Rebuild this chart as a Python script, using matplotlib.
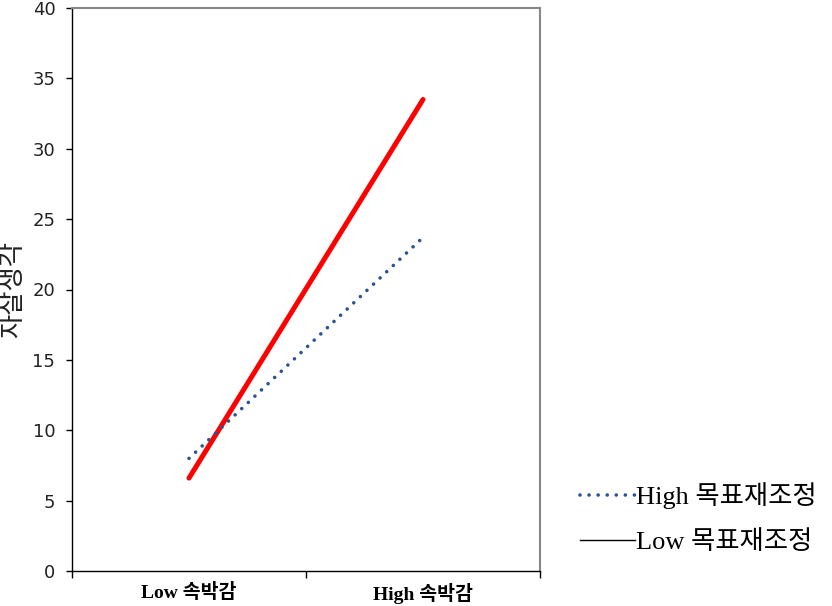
import matplotlib.pyplot as plt
from matplotlib.lines import Line2D

# 데이터
categories = ['Low 속박감', 'High 속박감']
high_goal = [8.0, 23.7]
low_goal = [6.6, 33.5]
series_names = ['High 목표재조정', 'Low 목표재조정']
y_ticks = [0, 5, 10, 15, 20, 25, 30, 35, 40]

serif_kr = ['Liberation Serif', 'Noto Sans CJK KR']

fig = plt.figure(figsize=(8.32, 6.06), dpi=100)
ax = fig.add_axes([72 / 832, 1 - 571 / 606, (540 - 72) / 832, (571 - 8) / 606])

x = [0.5, 1.5]
ax.plot(x, low_goal, color='#ff0000', lw=3.6, solid_capstyle='round', zorder=2)
ax.plot(x, high_goal, color='#2a5494', lw=2.6, linestyle=(0, (0.01, 2.5)),
        dash_capstyle='round', zorder=3)

ax.set_xlim(0, 2)
ax.set_ylim(0, 40)
ax.set_yticks(y_ticks)
ax.set_yticklabels([str(v) for v in y_ticks], fontsize=13, family='DejaVu Sans',
                   color='#222222')
ax.tick_params(axis='y', direction='out', length=4, width=1, pad=8)

# 범주 사이 눈금
ax.set_xticks([0, 1, 2])
ax.set_xticklabels([])
ax.set_xticks(x, minor=True)
ax.set_xticklabels(categories, minor=True, fontsize=14, fontweight='bold', family=serif_kr)
ax.tick_params(axis='x', which='major', direction='out', length=5, width=1)
ax.tick_params(axis='x', which='minor', length=0, pad=9)

for s in ['left', 'bottom']:
    ax.spines[s].set_color('black')
    ax.spines[s].set_linewidth(1)
for s in ['top', 'right']:
    ax.spines[s].set_color('#888888')
    ax.spines[s].set_linewidth(1.5)

ax.set_ylabel('자살생각', fontsize=19, family=['Noto Sans CJK KR'], color='#222222')
ax.yaxis.set_label_coords(-0.098, 0.5)

handles = [
    Line2D([], [], color='#2a5494', lw=2.6, linestyle=(0, (0.01, 2.5)), dash_capstyle='round'),
    Line2D([], [], color='black', lw=1),
]
fig.legend(handles, series_names, loc='center left', bbox_to_anchor=(556 / 832, 1 - 518 / 606),
           frameon=False, handlelength=2.1, handletextpad=0.05, labelspacing=0.8,
           prop={'family': serif_kr, 'size': 19})

fig.savefig('out.png', dpi=100)
